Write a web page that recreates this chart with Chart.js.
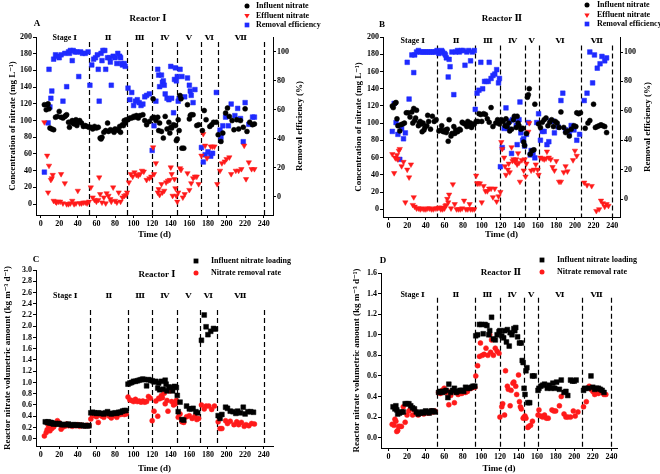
<!DOCTYPE html>
<html lang="en">
<head>
<meta charset="UTF-8" />
<title>Reactor nitrate</title>
<script src="https://cdn.jsdelivr.net/npm/chart.js"></script>
<style>
  body { margin: 0; background: #fff; }
  #wrap { position: relative; width: 660px; height: 474px; }
  canvas { position: absolute; }
</style>
</head>
<body>
<div id="wrap">
  <canvas id="cA" width="330" height="240" style="left:0;top:0"></canvas>
  <canvas id="cB" width="330" height="240" style="left:330px;top:0"></canvas>
  <canvas id="cC" width="330" height="237" style="left:0;top:237px"></canvas>
  <canvas id="cD" width="330" height="237" style="left:330px;top:237px"></canvas>
</div>
<script>
// ---- data: [day, value] ----
const aInfluent = [[4,119],[6,113],[7,119],[8,120],[9,114],[10,91],[12,90],[14,89],[16,104],[18,105],[20,111],[22,104],[24,103],[26,105],[27,106],[28,107],[30,98],[31,92],[32,98],[34,100],[35,97],[36,96],[38,101],[39,94],[40,98],[42,100],[44,97],[46,93],[48,94],[50,93],[52,92],
  [54,92],[56,90],[58,93],[60,91],[62,92],[64,79],[65,78],[66,80],[68,86],[70,88],[72,97],[73,87],[75,89],[77,88],[79,86],[80,90],[82,89],[84,88],[85,93],[86,86],[88,95],[89,94],[90,100],[91,97],[92,101],
  [94,101],[96,103],[98,103],[100,105],[101,104],[103,106],[105,103],[107,106],[110,107],[112,100],[114,95],[117,99],[120,103],
  [121,126],[122,104],[124,100],[126,104],[127,88],[128,97],[130,87],[132,79],[134,105],[136,90],[138,98],[139,85],[140,92],[141,91],[143,95],[145,94],[146,76],[147,78],
  [148,101],[149,88],[150,130],[151,126],[152,67],[154,67],[158,119],[160,102],[161,106],[162,107],[164,107],[168,94],[170,95],
  [174,88],[176,112],[178,101],[182,93],[184,95],[186,98],[189,98],
  [191,83],[194,75],[196,85],[199,109],[201,115],[203,105],[206,100],[208,89],[211,101],[213,90],[215,100],[218,92],[220,114],[222,87],[225,98],[228,95],[230,96]];
const aEffluent = [[4,98],[7,58],[8,14],[9,46],[11,29],[12,31],[13,35],[14,4],[16,3],[17,2],[19,3],[21,3],[22,36],[24,1],[26,25],[28,0],[30,0],[32,1],[34,4],[36,0],[38,1],[40,16],[42,1],[44,1],[46,2],[48,2],[50,1],[52,3],
  [54,20],[56,8],[58,5],[60,3],[62,5],[63,32],[64,12],[66,2],[68,8],[70,1],[71,13],[73,10],[75,6],[76,3],[78,20],[80,4],[82,2],[84,14],[86,3],[88,8],[90,10],[92,11],
  [93,14],[95,26],[97,36],[99,33],[101,38],[103,35],[105,34],[107,36],[109,40],[111,39],[114,29],[117,31],[119,33],
  [121,68],[122,36],[124,49],[126,14],[127,18],[128,11],[130,24],[131,14],[133,16],[135,26],[137,28],[139,29],[140,44],[141,36],[142,10],[144,30],[145,19],[146,10],[147,3],
  [148,14],[150,43],[151,41],[153,8],[155,12],[158,37],[160,17],[162,25],[164,31],[166,33],[168,33],[170,24],
  [173,58],[175,84],[177,70],[179,55],[183,69],[185,69],[187,69],[190,24],
  [193,40],[195,49],[198,51],[200,54],[203,56],[205,36],[210,40],[213,40],[216,42],[219,70],[221,30],[224,50],[227,42],[230,42]];
const aRemoval = [[4,17],[8,51],[9,88],[10,62],[11,68],[12,73],[14,95],[16,98],[18,97],[20,96],[22,98],[24,66],[26,99],[28,76],[30,100],[31,99],[32,101],[34,94],[35,101],[37,100],[39,100],[41,83],[43,100],[45,99],[48,99],[51,100],
  [53,77],[55,91],[57,95],[59,96],[61,98],[62,88],[63,66],[65,99],[66,94],[67,101],[69,101],[70,88],[72,96],[74,96],[75,93],[76,77],[78,97],[80,96],[82,92],[83,99],[85,97],[86,96],[87,92],[88,91],[90,92],[91,90],
  [94,75],[96,67],[98,72],[100,63],[102,66],[104,67],[106,65],[108,63],[110,64],[112,69],[114,70],[117,71],
  [120,32],[122,49],[124,66],[126,88],[127,84],[128,76],[130,84],[131,79],[132,80],[133,77],[134,71],[136,68],[138,67],[140,90],[141,68],[143,58],[144,81],[145,89],[146,80],[147,83],
  [148,66],[149,68],[150,88],[152,83],[155,69],[158,82],[160,77],[161,73],[162,70],[164,65],[166,74],
  [173,34],[175,24],[177,29],[180,31],[183,28],[185,30],[189,72],
  [193,46],[194,41],[196,49],[199,55],[202,49],[205,64],[209,56],[212,61],[215,54],[218,38],[220,65],[224,50],[228,55],[230,55]];

const bInfluent = [[4,120],[5,118],[7,123],[8,124],[9,105],[10,97],[12,91],[13,98],[15,99],[17,100],[19,112],[21,112],[23,107],[25,113],[26,100],[27,117],[28,103],[29,106],[30,115],[32,97],[33,100],[34,102],[35,99],[36,90],[37,100],[38,92],[39,95],[41,97],[42,109],[43,102],[45,93],[47,108],[49,102],[51,104],
  [54,91],[56,92],[57,97],[58,91],[59,90],[61,92],[62,89],[63,93],[64,79],[65,104],[67,85],[68,88],[70,96],[71,88],[72,92],[74,90],[76,93],[77,92],[79,101],[80,100],[82,99],[84,96],[85,102],[86,97],[88,100],[89,95],[90,98],[92,99],
  [94,102],[96,102],[97,111],[99,110],[100,102],[102,111],[104,110],[106,105],[108,101],[110,118],[112,96],[115,100],[117,104],[119,99],
  [121,104],[123,102],[125,97],[126,105],[127,96],[129,100],[130,91],[132,93],[134,104],[135,108],[137,95],[138,108],[139,100],[140,97],[142,93],[144,94],[145,78],[146,74],
  [148,88],[149,130],[150,133],[151,140],[152,64],[154,68],[156,69],[157,122],
  [161,99],[163,95],[165,101],[167,104],[169,106],[171,97],[173,101],[175,104],[177,96],[179,102],[181,100],[183,95],[185,113],[188,95],[190,89],[192,91],[194,85],[196,93],[199,97],[201,96],[202,112],[204,111],[206,112],
  [211,94],[214,100],[216,103],[220,122],[222,95],[224,96],[226,97],[228,98],[230,97],[232,96],[234,89]];
const bEffluent = [[4,64],[6,42],[7,60],[8,59],[9,63],[10,58],[11,68],[12,70],[14,50],[16,55],[18,8],[20,46],[22,37],[24,52],[26,5],[27,14],[28,3],[30,1],[32,1],[34,0],[36,1],[38,0],[40,0],[42,1],[44,1],[46,0],[48,0],[50,1],[52,1],
  [54,2],[56,0],[57,2],[58,0],[60,1],[61,4],[62,5],[63,12],[64,8],[65,17],[67,1],[69,29],[71,6],[73,0],[75,0],[77,0],[79,1],[81,10],[83,0],[85,0],[87,6],[88,0],[90,0],[92,0],
  [94,39],[95,30],[96,30],[98,30],[100,8],[102,27],[104,21],[106,21],[108,24],[110,24],[112,14],[114,24],[116,9],[118,15],[120,20],
  [121,78],[122,70],[124,60],[125,50],[126,40],[128,46],[129,53],[130,43],[132,72],[133,56],[134,58],[136,55],[137,58],[138,52],[139,65],[140,54],[141,32],[143,57],[145,45],[146,58],
  [147,38],[148,53],[150,90],[151,100],[153,45],[156,46],[158,52],
  [160,46],[161,40],[163,60],[165,59],[167,58],[169,59],[170,67],[172,60],[174,58],[176,49],[178,45],[180,56],[183,32],[185,32],[188,43],[190,50],[192,44],[198,57],[200,68],[202,62],
  [210,31],[213,28],[218,27],[223,-2],[226,0],[228,10],[230,7],[232,3],[234,6],[236,4]];
const bRemoval = [[4,46],[6,65],[8,52],[10,44],[12,27],[14,48],[16,41],[18,45],[20,93],[22,68],[25,98],[27,86],[28,98],[30,100],[32,101],[34,100],[36,100],[38,100],[40,100],[42,100],[44,100],[46,100],[48,100],[50,100],[52,101],
  [54,99],[56,100],[57,101],[58,100],[60,99],[61,98],[62,96],[64,83],[65,95],[66,90],[68,100],[70,71],[72,100],[74,101],[76,100],[78,101],[80,101],[82,91],[84,100],[86,101],[88,94],[90,100],[92,101],
  [93,61],[95,72],[97,74],[99,93],[101,75],[103,80],[105,80],[107,80],[108,93],[110,82],[112,84],[114,85],[116,88],[118,79],[119,82],
  [120,22],[122,35],[124,48],[126,62],[127,50],[128,48],[130,53],[132,31],[133,54],[135,54],[137,50],[138,37],[140,54],[141,66],[142,45],[144,40],[145,41],[146,36],
  [148,44],[150,52],[152,30],[153,33],[155,31],[157,28],[159,52],
  [161,58],[163,40],[165,46],[167,46],[170,37],[172,39],[174,53],[176,53],[178,45],[182,49],[185,67],[187,72],[190,47],[194,45],[196,50],[199,47],[202,40],[205,44],
  [210,67],[213,72],[216,100],[219,79],[221,98],[224,89],[227,92],[229,97],[232,94],[234,96]];

const cLoading = [[5,0.30],[7,0.29],[8,0.30],[9,0.29],[10,0.28],[11,0.29],[12,0.28],[13,0.27],[14,0.26],[16,0.27],[18,0.26],[20,0.27],[22,0.25],[24,0.25],[26,0.25],[28,0.25],[30,0.26],[32,0.24],[34,0.24],[36,0.25],[38,0.24],[40,0.24],[42,0.24],[44,0.24],[46,0.23],[48,0.23],[50,0.23],[52,0.23],
  [54,0.46],[56,0.47],[58,0.46],[60,0.45],[62,0.46],[64,0.45],[66,0.45],[68,0.44],[70,0.46],[72,0.48],[74,0.45],[76,0.44],[78,0.45],[80,0.46],[82,0.45],[84,0.47],[86,0.47],[88,0.49],[90,0.50],[92,0.50],
  [94,0.97],[96,0.99],[98,1.00],[100,1.02],[102,1.02],[104,1.03],[106,1.04],[108,1.05],[110,1.06],[112,1.05],[114,0.94],[116,1.05],[118,1.04],
  [120,1.03],[122,1.01],[124,1.02],[126,0.90],[127,0.99],[128,0.87],[130,1.02],[132,0.88],[134,1.04],[135,0.97],[136,0.85],[138,0.92],[140,0.91],[142,0.85],[144,0.93],[146,0.91],[147,0.77],
  [148,0.48],[150,0.65],[152,0.34],[154,0.33],[157,0.58],[160,0.53],[162,0.53],[164,0.54],[167,0.48],[169,0.46],
  [173,1.75],[176,2.20],[178,1.99],[180,1.85],[183,1.91],[186,1.96],[188,1.95],
  [191,0.41],[193,0.36],[195,0.43],[199,0.56],[201,0.54],[204,0.49],[207,0.48],[210,0.45],[212,0.49],[215,0.46],[218,0.56],[220,0.44],[223,0.48],[226,0.48],[229,0.47]];
const cRemovalRate = [[4,0.05],[6,0.11],[7,0.16],[8,0.25],[9,0.19],[10,0.14],[11,0.22],[12,0.18],[14,0.21],[16,0.25],[18,0.32],[20,0.28],[22,0.17],[24,0.21],[26,0.22],[28,0.26],[30,0.23],[32,0.24],[34,0.22],[36,0.24],[38,0.23],[40,0.25],[42,0.22],[44,0.24],[46,0.23],[48,0.23],[50,0.24],[52,0.23],
  [54,0.35],[56,0.41],[58,0.43],[60,0.39],[62,0.29],[64,0.42],[66,0.40],[68,0.38],[70,0.44],[72,0.45],[74,0.40],[76,0.37],[78,0.43],[80,0.41],[82,0.38],[84,0.44],[86,0.43],[88,0.45],[90,0.43],[92,0.44],
  [94,0.74],[96,0.69],[98,0.68],[100,0.66],[102,0.70],[104,0.66],[106,0.67],[108,0.65],[110,0.67],[112,0.65],[114,0.66],[116,0.75],[118,0.72],
  [120,0.32],[122,0.49],[124,0.67],[126,0.40],[127,0.72],[128,0.71],[130,0.77],[131,0.73],[133,0.81],[134,0.62],[136,0.68],[137,0.49],[139,0.85],[141,0.66],[143,0.60],[145,0.62],[146,0.68],
  [148,0.38],[150,0.44],[152,0.30],[154,0.29],[157,0.39],[160,0.41],[163,0.36],[166,0.40],[168,0.34],[170,0.36],
  [173,0.60],[176,0.53],[178,0.58],[181,0.58],[184,0.52],[187,0.58],
  [191,0.30],[193,0.18],[195,0.18],[199,0.32],[201,0.27],[204,0.31],[208,0.25],[211,0.30],[213,0.25],[216,0.29],[219,0.22],[221,0.25],[224,0.23],[227,0.27],[230,0.26]];

const dLoading = [[5,0.30],[7,0.28],[8,0.31],[9,0.27],[10,0.23],[12,0.24],[14,0.25],[16,0.25],[18,0.33],[20,0.33],[22,0.33],[24,0.31],[26,0.29],[28,0.28],[30,0.25],[32,0.23],[34,0.24],[36,0.25],[38,0.24],[40,0.26],[42,0.25],[44,0.24],[46,0.26],[48,0.26],[50,0.25],
  [54,0.44],[56,0.45],[58,0.44],[60,0.45],[62,0.46],[64,0.39],[65,0.52],[67,0.44],[69,0.46],[71,0.48],[73,0.44],[75,0.45],[77,0.46],[79,0.46],[81,0.45],[83,0.49],[85,0.48],[87,0.48],[89,0.49],[91,0.50],[93,0.50],
  [94,0.99],[96,1.00],[98,1.10],[100,1.10],[102,1.01],[104,1.10],[106,1.09],[108,1.00],[109,1.04],[111,1.17],[113,0.96],[115,0.95],[117,1.00],[119,1.03],
  [120,1.04],[122,0.99],[124,0.97],[125,1.04],[127,0.93],[128,1.05],[130,0.89],[131,1.02],[133,1.00],[135,1.06],[136,1.04],[137,1.07],[139,0.98],[141,0.92],[143,0.92],
  [144,0.75],[145,0.73],[146,0.48],[147,0.42],[148,0.65],[149,0.68],[150,0.34],[152,0.34],[155,0.60],[157,0.60],
  [161,0.46],[162,0.48],[164,0.50],[166,0.51],[168,0.52],[171,0.48],[173,0.51],[175,0.48],[177,0.53],[179,0.48],[181,0.54],[184,0.47],[186,0.56],[189,0.44],[191,0.45],[193,0.41],[196,0.56],[198,0.55],[200,0.55],[202,0.56],
  [210,0.46],[212,0.48],[215,0.48],[218,0.60],[220,0.49],[222,0.47],[224,0.48],[226,0.48],[228,0.47],[230,0.46],[232,0.44]];
const dRemovalRate = [[4,0.13],[6,0.12],[7,0.18],[8,0.16],[9,0.06],[10,0.07],[11,0.11],[12,0.11],[14,0.11],[16,0.30],[18,0.15],[20,0.22],[22,0.26],[24,0.28],[26,0.22],[28,0.27],[30,0.24],[32,0.22],[34,0.24],[36,0.24],[38,0.23],[40,0.25],[42,0.24],[44,0.24],[46,0.26],[48,0.25],[50,0.26],
  [54,0.44],[56,0.43],[58,0.46],[60,0.48],[62,0.44],[64,0.45],[65,0.32],[67,0.41],[69,0.45],[71,0.34],[73,0.44],[75,0.42],[77,0.43],[79,0.43],[81,0.45],[83,0.44],[85,0.45],[87,0.48],[89,0.48],[91,0.49],[93,0.49],
  [94,0.60],[96,0.70],[98,0.79],[99,0.92],[101,0.80],[103,0.81],[105,0.87],[107,0.80],[109,1.00],[110,0.83],[111,0.95],[113,0.80],[115,0.87],[117,0.84],[119,0.82],
  [120,0.20],[122,0.30],[123,0.33],[125,0.22],[126,0.65],[128,0.50],[129,0.47],[131,0.31],[132,0.46],[134,0.53],[135,0.54],[137,0.50],[138,0.42],[140,0.61],[141,0.35],[142,0.30],[143,0.28],
  [145,0.19],[146,0.20],[147,0.21],[148,0.19],[150,0.10],[151,0.11],[153,0.12],[155,0.16],
  [161,0.22],[162,0.27],[164,0.21],[166,0.20],[168,0.22],[170,0.19],[172,0.19],[176,0.27],[178,0.26],[180,0.26],[184,0.31],[186,0.40],[189,0.23],[191,0.20],[193,0.20],[196,0.20],[199,0.26],[201,0.21],[204,0.25],
  [210,0.30],[213,0.35],[216,0.50],[218,0.47],[220,0.45],[222,0.42],[224,0.44],[226,0.43],[228,0.46],[230,0.44],[232,0.42],[234,0.42]];

// stage boundaries (days) and labels
const stageNames = ['Stage \u2160', '\u2161', '\u2162', '\u2163', '\u2164', '\u2165', '\u2166'];
const stagesA = [52, 93, 120, 147, 172, 191, 240];
const stagesB = [52, 93, 120, 146, 161, 207, 240];
const stagesC = [53, 94, 120, 147, 171, 190, 240];
const stagesD = [52, 93, 120, 146, 161, 208, 240];

const SERIF = '"Liberation Serif", "DejaVu Serif", "Noto Sans CJK SC", serif';
Chart.defaults.font.family = SERIF;
Chart.defaults.font.weight = 'bold';
Chart.defaults.font.size = 8;
Chart.defaults.color = '#000';
Chart.defaults.animation = false;

const RED = '#ff1a1a', BLUE = '#1f2bff', BLACK = '#000';

function pts(arr) { return arr.map(p => ({ x: p[0], y: p[1] })); }

function series(label, arr, color, style, radius, extra) {
  return Object.assign({
    label, data: pts(arr), pointStyle: style, pointRadius: radius,
    backgroundColor: color, borderColor: color, borderWidth: 0.5, showLine: false
  }, extra || {});
}

function axis(o) {
  return {
    type: 'linear', position: o.position, min: o.min, max: o.max,
    afterFit: s => { if (s.isHorizontal()) s.height = o.size; else s.width = o.size; },
    grid: { drawOnChartArea: false, drawTicks: true, tickLength: 3, tickColor: '#000', tickWidth: 1 },
    border: { display: true, color: '#000', width: 1 },
    ticks: { stepSize: o.step, includeBounds: false, autoSkip: false, maxRotation: 0, padding: 1,
             callback: o.fmt || (v => v) },
    title: { display: !!o.title, text: o.title, font: { size: 9, weight: 'bold' },
             padding: { top: o.tpad || 0, bottom: 0 } }
  };
}

// draws stage lines, stage labels, panel letter, title, legend, right title
const decor = {
  id: 'decor',
  beforeDatasetsDraw(chart, args, o) {
    const { ctx, chartArea, scales } = chart;
    const x = scales.x, y = scales.y;
    ctx.save();
    ctx.strokeStyle = '#000';
    ctx.lineWidth = 1.2;
    ctx.setLineDash([5, 3]);
    o.stages.forEach(v => {
      const px = Math.round(x.getPixelForValue(v)) + 0.5;
      ctx.beginPath();
      ctx.moveTo(px, y.getPixelForValue(o.lineTop));
      ctx.lineTo(px, chartArea.bottom);
      ctx.stroke();
    });
    ctx.restore();
  },
  afterDraw(chart, args, o) {
    const { ctx, chartArea, scales } = chart;
    const x = scales.x, y = scales.y;
    ctx.save();
    ctx.fillStyle = '#000';
    ctx.textBaseline = 'middle';
    ctx.textAlign = 'center';
    ctx.font = 'bold 8px ' + SERIF;
    let prev = 0;
    o.stages.forEach((v, i) => {
      ctx.fillText(stageNames[i], x.getPixelForValue((prev + v) / 2), y.getPixelForValue(o.labelY));
      prev = v;
    });
    ctx.font = 'bold 9px ' + SERIF;
    ctx.fillText(o.letter[0], o.letter[1], o.letter[2]);
    ctx.fillText(o.title[0], o.title[1], o.title[2]);
    // legend
    ctx.textAlign = 'left';
    ctx.font = 'bold 8px ' + SERIF;
    chart.data.datasets.forEach((ds, i) => {
      const mx = o.legend.mx, tx = o.legend.tx, ly = o.legend.rows[i];
      const r = ds.pointRadius;
      ctx.fillStyle = ds.backgroundColor;
      ctx.beginPath();
      if (ds.pointStyle === 'circle') ctx.arc(mx, ly, r, 0, Math.PI * 2);
      else if (ds.pointStyle === 'rect') { const s = r * Math.SQRT1_2; ctx.rect(mx - s, ly - s, 2 * s, 2 * s); }
      else { ctx.moveTo(mx - r * 0.87, ly - r * 0.5); ctx.lineTo(mx + r * 0.87, ly - r * 0.5); ctx.lineTo(mx, ly + r); ctx.closePath(); }
      ctx.fill();
      ctx.fillStyle = '#000';
      ctx.fillText(ds.label, tx, ly);
    });
    if (o.rightTitle) {
      ctx.font = 'bold 9px ' + SERIF;
      ctx.textAlign = 'center';
      ctx.translate(o.rightTitle[1], (chartArea.top + chartArea.bottom) / 2);
      ctx.rotate(-Math.PI / 2);
      ctx.fillText(o.rightTitle[0], 0, 0);
    }
    ctx.restore();
  }
};

const concTitle = 'Concentration of nitrate (mg L\u207B\u00B9)';
const rateTitle = 'Reactor nitrate volumetric amount (kg m\u207B\u00B3 d\u207B\u00B9)';
const fix1 = v => v.toFixed(1);

// Panel A
new Chart(document.getElementById('cA'), {
  type: 'scatter',
  data: { datasets: [
    series('Influent nitrate', aInfluent, BLACK, 'circle', 2.5),
    series('Effluent nitrate', aEffluent, RED, 'triangle', 3.1, { rotation: 180 }),
    series('Removal efficiency', aRemoval, BLUE, 'rect', 3.3, { yAxisID: 'y2' })
  ] },
  options: {
    responsive: false,
    layout: { padding: { top: 37, left: 0, right: 0, bottom: 0 } },
    plugins: { legend: { display: false }, tooltip: { enabled: false },
      decor: { stages: stagesA, lineTop: 194, labelY: 199, letter: ['A', 37, 24], title: ['Reactor \u2160', 148, 19],
               legend: { mx: 247, tx: 256, rows: [6, 15.5, 25] }, rightTitle: ['Removal efficiency (%)', 300] } },
    scales: {
      x: axis({ position: 'bottom', min: -5, max: 250, step: 20, size: 25, title: 'Time (d)', tpad: 2.5 }),
      y: axis({ position: 'left', min: -13, max: 200, step: 20, size: 36, title: concTitle, tpad: 7.5 }),
      y2: axis({ position: 'right', min: -12.6, max: 110.3, step: 20, size: 57 })
    }
  },
  plugins: [decor]
});

// Panel B
new Chart(document.getElementById('cB'), {
  type: 'scatter',
  data: { datasets: [
    series('Influent nitrate', bInfluent, BLACK, 'circle', 2.5),
    series('Effluent nitrate', bEffluent, RED, 'triangle', 3.1, { rotation: 180 }),
    series('Removal efficiency', bRemoval, BLUE, 'rect', 3.3, { yAxisID: 'y2' })
  ] },
  options: {
    responsive: false,
    layout: { padding: { top: 37, left: 0, right: 0, bottom: 0 } },
    plugins: { legend: { display: false }, tooltip: { enabled: false },
      decor: { stages: stagesB, lineTop: 190, labelY: 196, letter: ['B', 52, 25], title: ['Reactor \u2161', 172, 19],
               legend: { mx: 257, tx: 267, rows: [5, 15, 24] }, rightTitle: ['Removal efficiency (%)', 318] } },
    scales: {
      x: axis({ position: 'bottom', min: -6, max: 248.4, step: 20, size: 23, title: 'Time (d)', tpad: 2.3 }),
      y: axis({ position: 'left', min: -9, max: 200, step: 20, size: 53, title: concTitle, tpad: 23 }),
      y2: axis({ position: 'right', min: -12.2, max: 110.2, step: 20, size: 40 })
    }
  },
  plugins: [decor]
});

// Panel C
new Chart(document.getElementById('cC'), {
  type: 'scatter',
  data: { datasets: [
    series('Influent nitrate loading', cLoading, BLACK, 'rect', 3.4),
    series('Nitrate removal rate', cRemovalRate, RED, 'circle', 2.5)
  ] },
  options: {
    responsive: false,
    layout: { padding: { top: 33, left: 0, right: 57, bottom: 0 } },
    plugins: { legend: { display: false }, tooltip: { enabled: false },
      decor: { stages: stagesC, lineTop: 2.29, labelY: 2.53, letter: ['C', 36, 23], title: ['Reactor \u2160', 157, 38],
               legend: { mx: 196, tx: 211, rows: [24, 36] } } },
    scales: {
      x: axis({ position: 'bottom', min: -5, max: 250, step: 20, size: 28, title: 'Time (d)', tpad: 4 }),
      y: axis({ position: 'left', min: -0.13, max: 3.0, step: 0.2, size: 36, title: rateTitle, tpad: 2.6, fmt: fix1 })
    }
  },
  plugins: [decor]
});

// Panel D
new Chart(document.getElementById('cD'), {
  type: 'scatter',
  data: { datasets: [
    series('Influent nitrate loading', dLoading, BLACK, 'rect', 3.4),
    series('Nitrate removal rate', dRemovalRate, RED, 'circle', 2.5)
  ] },
  options: {
    responsive: false,
    layout: { padding: { top: 36, left: 0, right: 43, bottom: 0 } },
    plugins: { legend: { display: false }, tooltip: { enabled: false },
      decor: { stages: stagesD, lineTop: 1.36, labelY: 1.386, letter: ['D', 53, 24], title: ['Reactor \u2161', 171, 36],
               legend: { mx: 212, tx: 227, rows: [23, 35] } } },
    scales: {
      x: axis({ position: 'bottom', min: -8, max: 246, step: 20, size: 26, title: 'Time (d)', tpad: 1.6 }),
      y: axis({ position: 'left', min: -0.1, max: 1.6, step: 0.2, size: 51, title: rateTitle, tpad: 21, fmt: fix1 })
    }
  },
  plugins: [decor]
});
</script>
</body>
</html>
